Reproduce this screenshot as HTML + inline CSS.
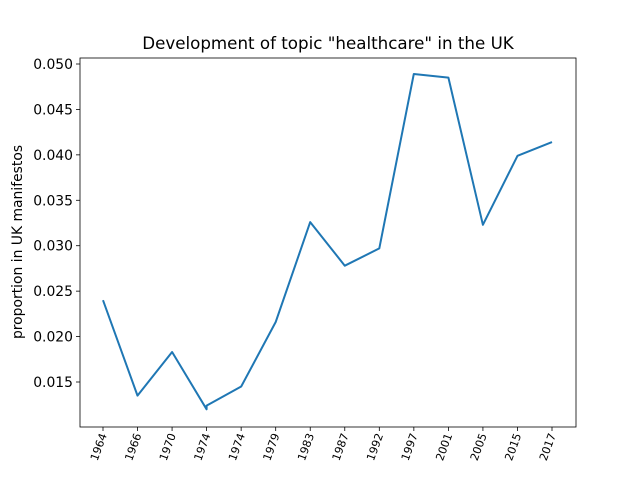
<!DOCTYPE html>
<html><head><meta charset="utf-8"><style>
body{margin:0;background:#fff}
svg{font-family:"DejaVu Sans","Liberation Sans",sans-serif}
</style></head><body>
<svg id="chart" width="640" height="480">
<rect width="640" height="480" fill="#fff"/>
<text x="328" y="49" font-size="16.7" text-anchor="middle">Development of topic "healthcare" in the UK</text>
<text transform="translate(22,242) rotate(-90)" font-size="13.9" text-anchor="middle">proportion in UK manifestos</text>
<g id="axes"></g>
</svg>
<script>
const categories=["1964","1966","1970","1974","1974","1979","1983","1987","1992","1997","2001","2005","2015","2017"];
const pointIndex=[0,1,2,3,3,4,5,6,7,8,9,10,11,12,13];
const values=[0.0240,0.0135,0.0183,0.0120,0.0124,0.0145,0.0216,0.0326,0.0278,0.0297,0.0489,0.0485,0.0323,0.0399,0.0414];
const yTicks=[0.015,0.020,0.025,0.030,0.035,0.040,0.045,0.050];
const yTickLabels=["0.015","0.020","0.025","0.030","0.035","0.040","0.045","0.050"];
const L=80,R=576,T=58,B=427;
const NS="http://www.w3.org/2000/svg";
const g=document.getElementById('axes');
function xs(i){return 103+i*(552-103)/(categories.length-1);}
function ys(v){return 382-(v-0.015)*(382-64)/0.035;}
function mk(t,a,p){const e=document.createElementNS(NS,t);for(const k in a)e.setAttribute(k,a[k]);(p||g).appendChild(e);return e;}
yTicks.forEach((v,i)=>{
  const y=ys(v);
  const tk=mk('line',{x1:L-4,x2:L,y1:y,y2:y,stroke:'#000','stroke-width':0.8});
  
  
  const tx=mk('text',{x:L-7,y:y+5,'font-size':13.9,'text-anchor':'end'});
  tx.textContent=yTickLabels[i];
  
  
});
categories.forEach((c,i)=>{
  const x=xs(i);
  const tk=mk('line',{x1:x,x2:x,y1:B,y2:B+4,stroke:'#000','stroke-width':0.8});
  
  
  const tx=mk('text',{transform:`translate(${x+4},${B+8}) rotate(-70)`,'font-size':11.1,'text-anchor':'end'});
  tx.textContent=c;
  
  
});
const pts=values.map((v,i)=>xs(pointIndex[i]).toFixed(1)+','+ys(v).toFixed(1)).join(' ');
const line=mk('polyline',{points:pts,fill:'none',stroke:'#1f77b4','stroke-width':2,'stroke-linejoin':'round'});


const fr=mk('rect',{x:L,y:T,width:R-L,height:B-T,fill:'none',stroke:'#000','stroke-width':0.8});


</script>
</body></html>
